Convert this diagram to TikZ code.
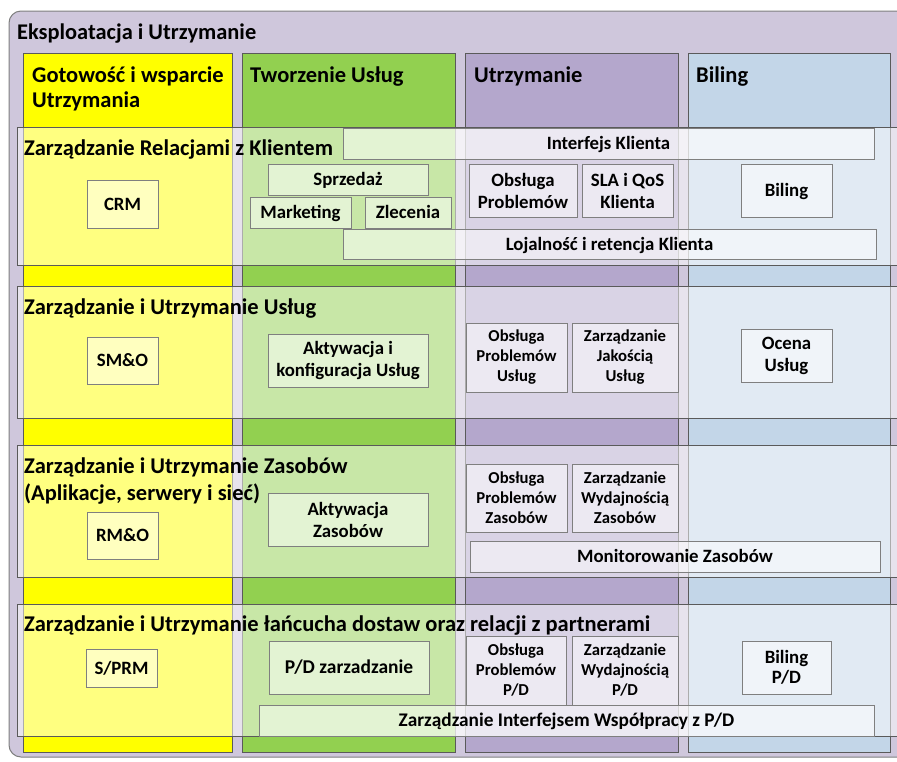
\documentclass[tikz,border=0pt]{standalone}
\usepackage{fontspec}
\setmainfont{Carlito}
\definecolor{outerc}{HTML}{CFC7DC}
\definecolor{yelc}{HTML}{FFFF00}
\definecolor{grnc}{HTML}{92D050}
\definecolor{purc}{HTML}{B4A7CC}
\definecolor{bluc}{HTML}{C3D6E8}
\definecolor{edgec}{HTML}{7F7F7F}
\definecolor{rowedge}{HTML}{5A5A5A}
\tikzset{
  outerbox/.style={draw=edgec, fill=outerc, rounded corners=12pt, line width=1pt},
  colbox/.style={draw=rowedge, line width=0.7pt},
  rowbox/.style={draw=rowedge, fill=white, fill opacity=0.5, line width=0.8pt},
  itembox/.style={draw=edgec, fill=white, fill opacity=0.5, text opacity=1, line width=0.8pt,
    inner sep=0pt, align=center, font=\bfseries\fontsize{18.8}{22}\selectfont},
  oneline/.style={text height=12.4pt, text depth=0pt},
  smalltxt/.style={font=\bfseries\fontsize{16.7}{20}\selectfont},
  coltitle/.style={anchor=base west, inner sep=0pt, align=left, font=\bfseries\fontsize{22.5}{25}\selectfont},
  rowtitle/.style={anchor=base west, inner sep=0pt, align=left, font=\bfseries\fontsize{22.5}{27}\selectfont},
  maintitle/.style={anchor=base west, inner sep=0pt, font=\bfseries\fontsize{22.4}{26}\selectfont}
}
\newcommand{\drbox}[7][]{%
  \node[itembox, #1, minimum width={(#5-#3)*1pt}, minimum height={(#6-#4)*1pt}] (#2) at ({(#3+#5)/2},{(#4+#6)/2}) {#7};}
\begin{document}
\begin{tikzpicture}[x=1pt,y=-1pt]
\useasboundingbox (0,0) rectangle (897,761);
% outer
\draw[outerbox] (9,11) rectangle (910,757);
\node[maintitle] (title) at (17,39) {Eksploatacja i Utrzymanie};
% columns
\draw[colbox, fill=yelc] (23,53) rectangle (232,752);
\draw[colbox, fill=grnc] (242,53) rectangle (455,752);
\draw[colbox, fill=purc] (465,53) rectangle (678,752);
\draw[colbox, fill=bluc] (688,53) rectangle (890,752);
\node[coltitle] (c1) at (32,107) {Gotowość i wsparcie\\Utrzymania};
\node[coltitle] (c2) at (250,82) {Tworzenie Usług};
\node[coltitle] (c3) at (474,82) {Utrzymanie};
\node[coltitle] (c4) at (696,82) {Biling};
% rows
\draw[rowbox] (17,127) rectangle (905,265);
\draw[rowbox] (17,286) rectangle (905,418);
\draw[rowbox] (17,445) rectangle (905,577);
\draw[rowbox] (17,604) rectangle (905,736);
\node[rowtitle] (r1) at (24,155) {Zarządzanie Relacjami z Klientem};
\node[rowtitle] (r2) at (24,314) {Zarządzanie i Utrzymanie Usług};
\node[rowtitle] (r3) at (24,500) {Zarządzanie i Utrzymanie Zasobów\\(Aplikacje, serwery i sieć)};
\node[rowtitle] (r4) at (24,631) {Zarządzanie i Utrzymanie łańcucha dostaw oraz relacji z partnerami};
% row 1
\drbox[oneline]{crm}{87}{180}{158}{228}{CRM}
\drbox[oneline]{ik}{343}{128}{874}{159}{Interfejs Klienta}
\drbox[oneline]{spr}{268}{164}{428}{195}{Sprzedaż}
\drbox[oneline]{mkt}{250}{197}{351}{228}{Marketing}
\drbox[oneline]{zle}{365}{197}{451}{228}{Zlecenia}
\drbox[oneline]{loj}{343}{229}{876}{259}{Lojalność i retencja Klienta}
\drbox{op1}{469}{164}{577}{217}{Obsługa\\Problemów}
\drbox{sla}{582}{164}{673}{217}{SLA i QoS\\Klienta}
\drbox[oneline]{bil}{741}{164}{832}{217}{Biling}
% row 2
\drbox[oneline]{smo}{87}{337}{158}{384}{SM\&O}
\drbox{akk}{268}{334}{428}{387}{Aktywacja i\\konfiguracja Usług}
\drbox[smalltxt]{opu}{466}{323}{567}{392}{Obsługa\\Problemów\\Usług}
\drbox[smalltxt]{zju}{572}{323}{678}{392}{Zarządzanie\\Jakością\\Usług}
\drbox{ocu}{741}{329}{832}{382}{Ocena\\Usług}
% row 3
\drbox[oneline]{rmo}{87}{512}{158}{559}{RM\&O}
\drbox{akz}{268}{493}{428}{546}{Aktywacja\\Zasobów}
\drbox[smalltxt]{opz}{466}{464}{567}{532}{Obsługa\\Problemów\\Zasobów}
\drbox[smalltxt]{zwz}{572}{464}{678}{532}{Zarządzanie\\Wydajnością\\Zasobów}
\drbox[oneline]{mon}{470}{541}{880}{572}{Monitorowanie Zasobów}
% row 4
\drbox[oneline]{sprm}{86}{649}{157}{687}{S/PRM}
\drbox[oneline, font=\bfseries\fontsize{19.5}{22}\selectfont]{pdz}{269}{641}{429}{694}{P/D zarzadzanie}
\drbox[smalltxt]{oppd}{466}{636}{566}{705}{Obsługa\\Problemów\\P/D}
\drbox[smalltxt]{zwpd}{572}{636}{678}{705}{Zarządzanie\\Wydajnością\\P/D}
\drbox[font=\bfseries\fontsize{18.8}{20}\selectfont]{bpd}{742}{641}{831}{694}{Biling\\P/D}
\drbox[oneline, font=\bfseries\fontsize{19.3}{22}\selectfont]{ziw}{259}{705}{874}{736}{Zarządzanie Interfejsem Współpracy z P/D}
\end{tikzpicture}
\end{document}
